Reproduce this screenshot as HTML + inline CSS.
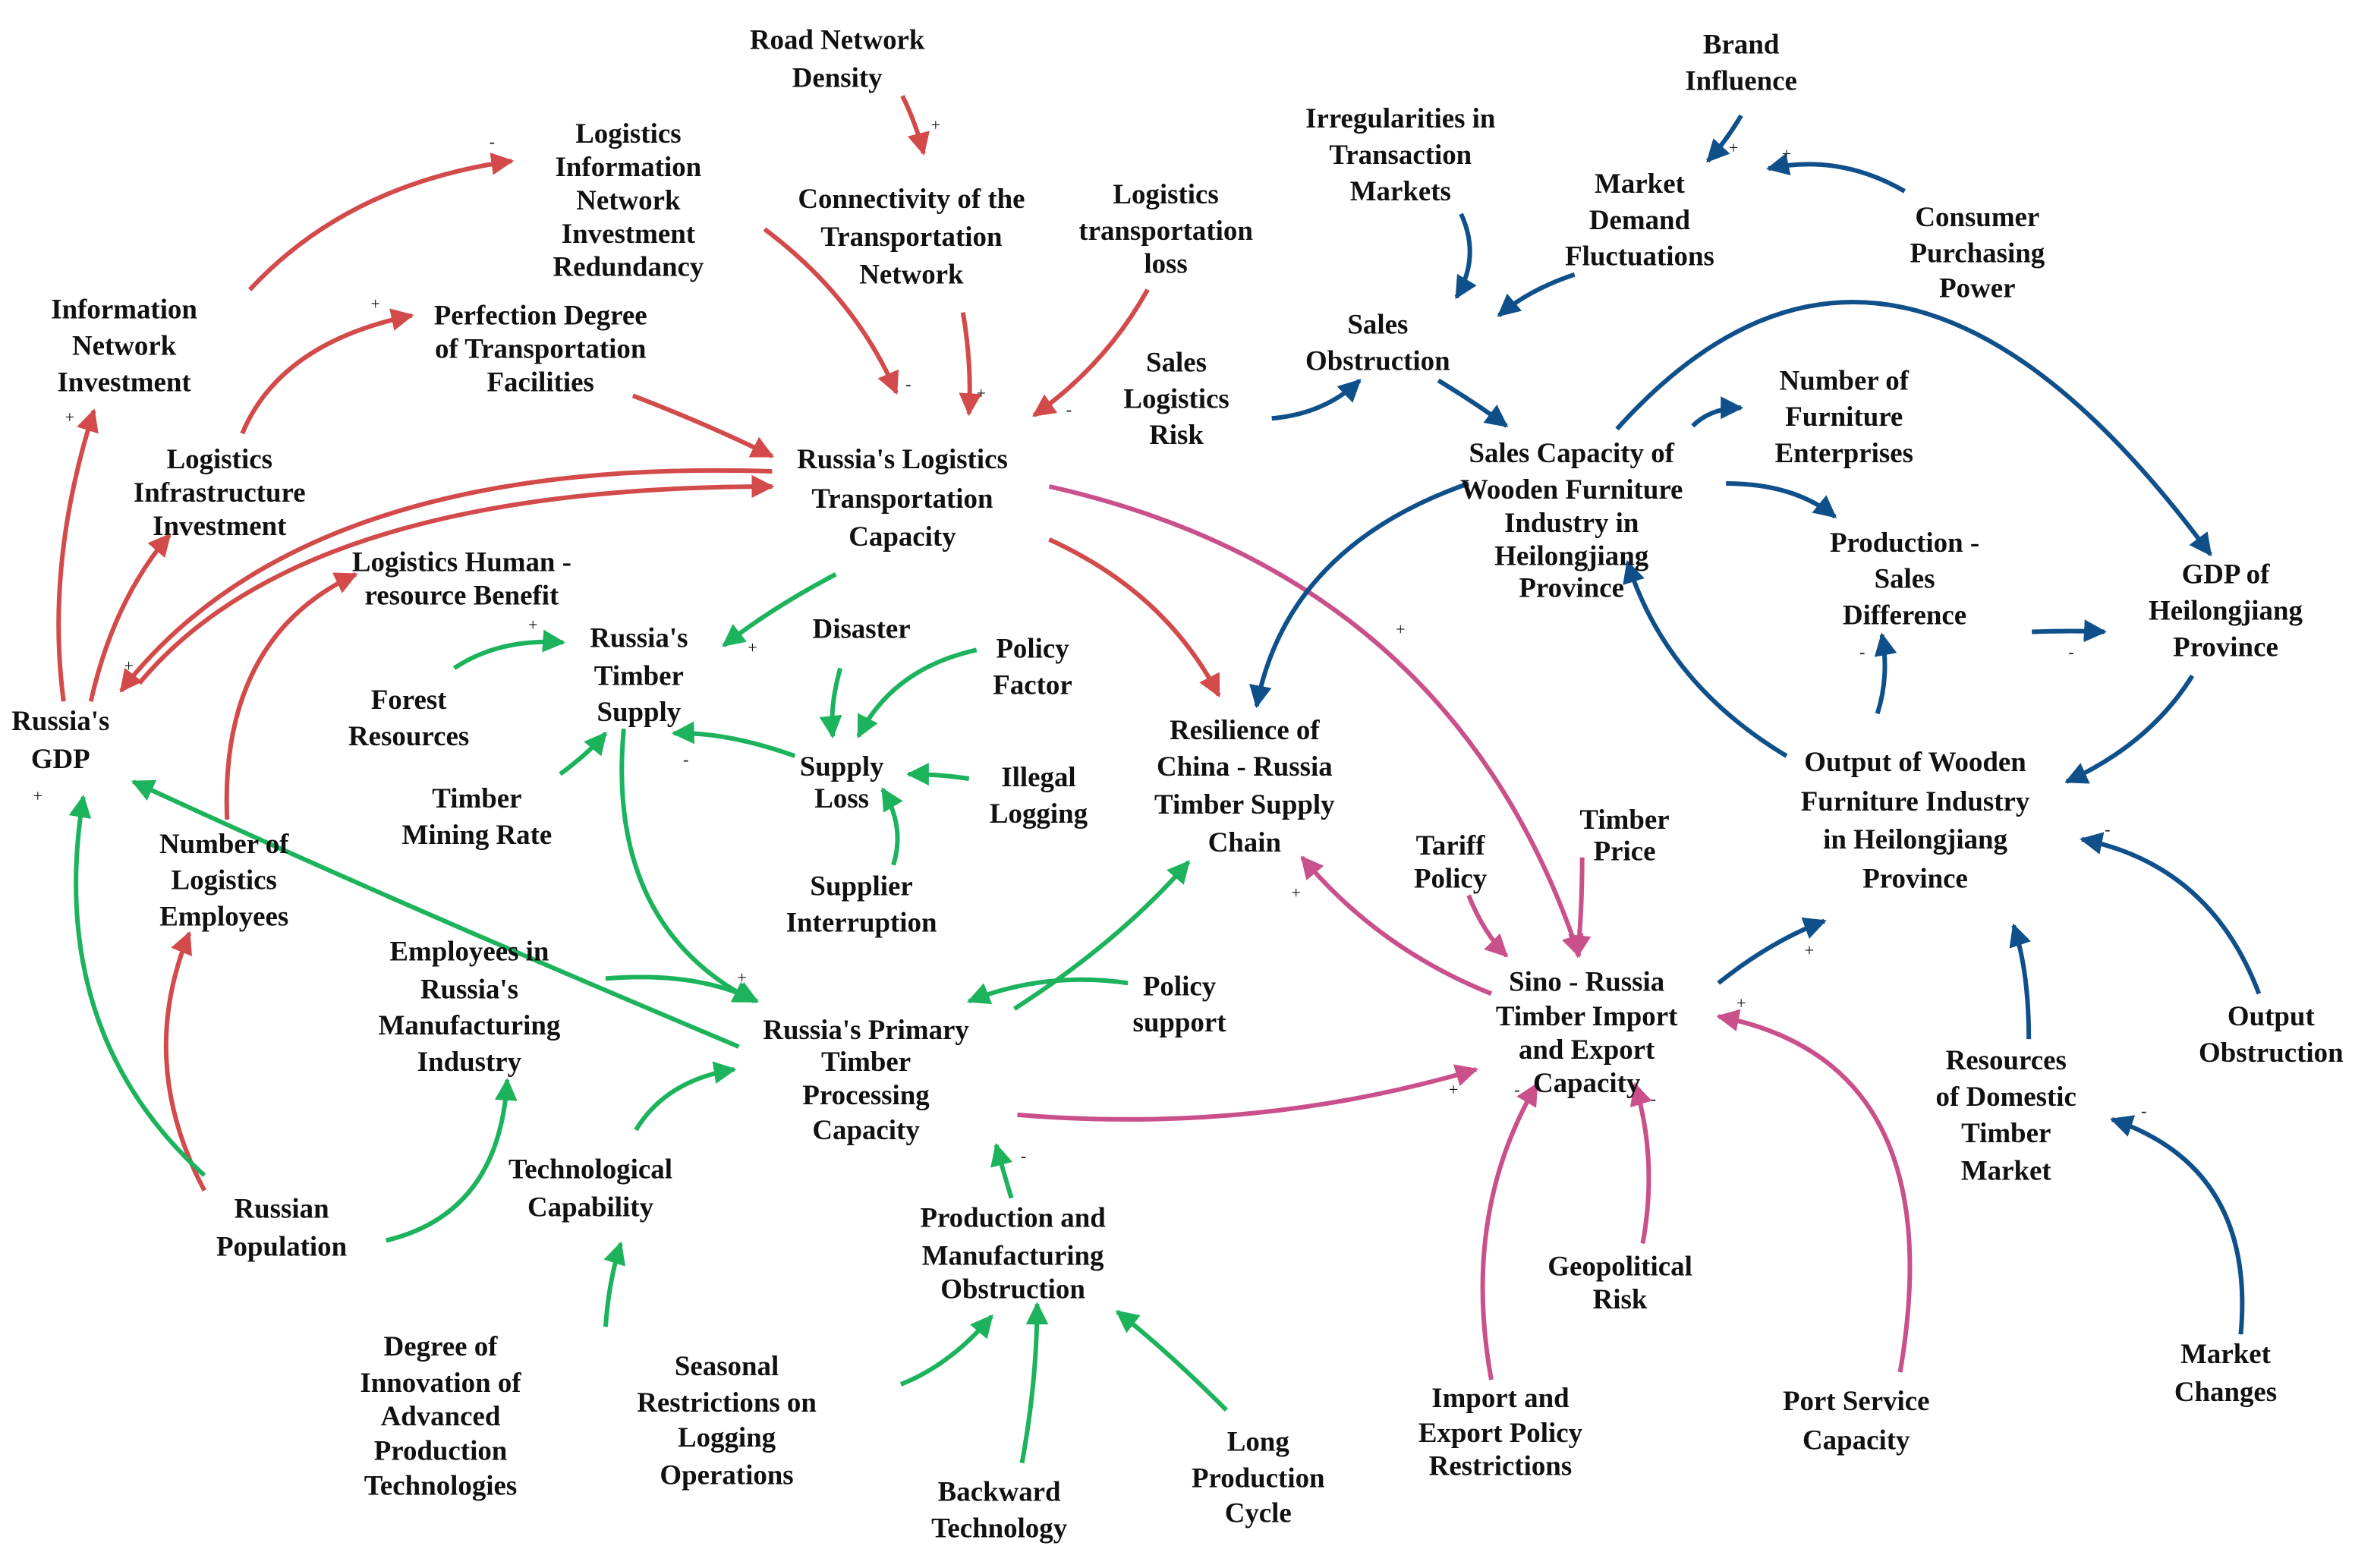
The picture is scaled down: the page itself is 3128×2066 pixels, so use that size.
<!DOCTYPE html>
<html><head><meta charset="utf-8"><style>
html,body{margin:0;padding:0;background:#fff;}
svg{display:block;}
text{font-family:"Liberation Serif",serif;font-weight:bold;font-size:18.5px;fill:#111;text-anchor:middle;}
.s{font-size:11px;font-weight:normal;}
</style></head><body>
<svg width="3128" height="2066" viewBox="0 0 1568 1033" xmlns="http://www.w3.org/2000/svg">
<defs>
<marker id="mr" viewBox="0 0 10 10" refX="9" refY="5" markerWidth="5" markerHeight="5" orient="auto" markerUnits="strokeWidth"><path d="M0,0L10,5L0,10z" fill="#d24a4a"/></marker>
<marker id="mg" viewBox="0 0 10 10" refX="9" refY="5" markerWidth="5" markerHeight="5" orient="auto" markerUnits="strokeWidth"><path d="M0,0L10,5L0,10z" fill="#1cb35c"/></marker>
<marker id="mb" viewBox="0 0 10 10" refX="9" refY="5" markerWidth="5" markerHeight="5" orient="auto" markerUnits="strokeWidth"><path d="M0,0L10,5L0,10z" fill="#0f4f8a"/></marker>
<marker id="mp" viewBox="0 0 10 10" refX="9" refY="5" markerWidth="5" markerHeight="5" orient="auto" markerUnits="strokeWidth"><path d="M0,0L10,5L0,10z" fill="#c9508a"/></marker>
</defs>
<g fill="none" stroke-width="3">
<g stroke="#d24a4a" marker-end="url(#mr)">
<path d="M596,62Q605,80 610,100"/>
<path d="M165,190Q230,120 338,105"/>
<path d="M42,462Q30,370 62,270"/>
<path d="M60,462Q75,395 112,352"/>
<path d="M160,285Q185,225 272,207"/>
<path d="M418,260Q470,280 510,300"/>
<path d="M505,150Q565,195 592,258"/>
<path d="M636,205Q642,240 640,272"/>
<path d="M758,190Q730,240 683,273"/>
<path d="M510,310Q200,300 80,455"/>
<path d="M92,450Q200,320 510,320"/>
<path d="M150,540Q145,420 235,378"/>
<path d="M135,785Q90,700 125,615"/>
<path d="M693,355Q770,390 805,458"/>
</g>
<g stroke="#c9508a" marker-end="url(#mp)">
<path d="M693,320Q960,380 1043,630"/>
<path d="M985,655Q910,625 860,565"/>
<path d="M672,735Q830,748 975,705"/>
<path d="M970,590Q980,615 995,630"/>
<path d="M1045,565Q1045,600 1042,630"/>
<path d="M985,910Q965,800 1015,715"/>
<path d="M1085,820Q1095,765 1080,715"/>
<path d="M1255,905Q1290,700 1135,670"/>
</g>
<g stroke="#1cb35c" marker-end="url(#mg)">
<path d="M552,378Q510,400 478,425"/>
<path d="M300,440Q330,420 372,423"/>
<path d="M370,510Q390,495 400,483"/>
<path d="M525,498Q480,482 445,483"/>
<path d="M555,440Q548,465 550,485"/>
<path d="M645,428Q590,440 567,485"/>
<path d="M640,513Q620,510 600,510"/>
<path d="M590,570Q598,545 583,520"/>
<path d="M412,480Q400,610 498,660"/>
<path d="M400,645Q460,640 500,660"/>
<path d="M420,745Q440,712 485,705"/>
<path d="M255,818Q330,800 335,712"/>
<path d="M400,875Q402,845 410,820"/>
<path d="M488,690Q250,590 88,515"/>
<path d="M135,775Q30,680 55,525"/>
<path d="M745,648Q690,640 640,660"/>
<path d="M670,665Q740,620 785,568"/>
<path d="M668,790Q662,770 658,755"/>
<path d="M595,913Q628,900 655,868"/>
<path d="M675,965Q685,910 685,860"/>
<path d="M810,930Q770,890 738,865"/>
</g>
<g stroke="#0f4f8a" marker-end="url(#mb)">
<path d="M1150,75Q1140,92 1128,105"/>
<path d="M1258,125Q1215,100 1168,110"/>
<path d="M965,140Q978,168 962,195"/>
<path d="M1040,180Q1010,190 990,207"/>
<path d="M840,275Q875,272 898,250"/>
<path d="M950,250Q975,265 995,280"/>
<path d="M1068,282Q1250,80 1460,365"/>
<path d="M1118,280Q1130,268 1150,268"/>
<path d="M1140,318Q1185,318 1212,340"/>
<path d="M970,318Q850,360 830,465"/>
<path d="M1180,498Q1100,450 1075,370"/>
<path d="M1240,470Q1248,445 1243,418"/>
<path d="M1342,416Q1370,415 1390,416"/>
<path d="M1448,445Q1420,490 1365,515"/>
<path d="M1135,648Q1170,620 1205,607"/>
<path d="M1492,655Q1460,570 1375,553"/>
<path d="M1340,685Q1340,640 1330,610"/>
<path d="M1480,880Q1490,770 1395,738"/>
</g>
</g>
<g>
<text x="553" y="31">Road Network</text><text x="553" y="56">Density</text>
<text x="415" y="93">Logistics</text><text x="415" y="115">Information</text><text x="415" y="137">Network</text><text x="415" y="159">Investment</text><text x="415" y="181">Redundancy</text>
<text x="602" y="136">Connectivity of the</text><text x="602" y="161">Transportation</text><text x="602" y="186">Network</text>
<text x="770" y="133">Logistics</text><text x="770" y="157">transportation</text><text x="770" y="179">loss</text>
<text x="925" y="83">Irregularities in</text><text x="925" y="107">Transaction</text><text x="925" y="131">Markets</text>
<text x="1150" y="34">Brand</text><text x="1150" y="58">Influence</text>
<text x="1083" y="126">Market</text><text x="1083" y="150">Demand</text><text x="1083" y="174">Fluctuations</text>
<text x="1306" y="148">Consumer</text><text x="1306" y="172">Purchasing</text><text x="1306" y="195">Power</text>
<text x="82" y="209">Information</text><text x="82" y="233">Network</text><text x="82" y="257">Investment</text>
<text x="357" y="213">Perfection Degree</text><text x="357" y="235">of Transportation</text><text x="357" y="257">Facilities</text>
<text x="910" y="219">Sales</text><text x="910" y="243">Obstruction</text>
<text x="777" y="244">Sales</text><text x="777" y="268">Logistics</text><text x="777" y="292">Risk</text>
<text x="1218" y="256">Number of</text><text x="1218" y="280">Furniture</text><text x="1218" y="304">Enterprises</text>
<text x="145" y="308">Logistics</text><text x="145" y="330">Infrastructure</text><text x="145" y="352">Investment</text>
<text x="596" y="308">Russia's Logistics</text><text x="596" y="334">Transportation</text><text x="596" y="359">Capacity</text>
<text x="1038" y="304">Sales Capacity of</text><text x="1038" y="328">Wooden Furniture</text><text x="1038" y="350">Industry in</text><text x="1038" y="372">Heilongjiang</text><text x="1038" y="393">Province</text>
<text x="305" y="376">Logistics Human -</text><text x="305" y="398">resource Benefit</text>
<text x="1258" y="363">Production -</text><text x="1258" y="387">Sales</text><text x="1258" y="411">Difference</text>
<text x="1470" y="384">GDP of</text><text x="1470" y="408">Heilongjiang</text><text x="1470" y="432">Province</text>
<text x="422" y="426">Russia's</text><text x="422" y="451">Timber</text><text x="422" y="475">Supply</text>
<text x="569" y="420">Disaster</text>
<text x="682" y="433">Policy</text><text x="682" y="457">Factor</text>
<text x="270" y="467">Forest</text><text x="270" y="491">Resources</text>
<text x="40" y="481">Russia's</text><text x="40" y="506">GDP</text>
<text x="822" y="487">Resilience of</text><text x="822" y="511">China - Russia</text><text x="822" y="536">Timber Supply</text><text x="822" y="561">Chain</text>
<text x="556" y="511">Supply</text><text x="556" y="532">Loss</text>
<text x="686" y="518">Illegal</text><text x="686" y="542">Logging</text>
<text x="1265" y="508">Output of Wooden</text><text x="1265" y="534">Furniture Industry</text><text x="1265" y="559">in Heilongjiang</text><text x="1265" y="585">Province</text>
<text x="315" y="532">Timber</text><text x="315" y="556">Mining Rate</text>
<text x="148" y="562">Number of</text><text x="148" y="586">Logistics</text><text x="148" y="610">Employees</text>
<text x="1073" y="546">Timber</text><text x="1073" y="567">Price</text>
<text x="958" y="563">Tariff</text><text x="958" y="585">Policy</text>
<text x="569" y="590">Supplier</text><text x="569" y="614">Interruption</text>
<text x="310" y="633">Employees in</text><text x="310" y="658">Russia's</text><text x="310" y="682">Manufacturing</text><text x="310" y="706">Industry</text>
<text x="779" y="656">Policy</text><text x="779" y="680">support</text>
<text x="1048" y="653">Sino - Russia</text><text x="1048" y="676">Timber Import</text><text x="1048" y="698">and Export</text><text x="1048" y="720">Capacity</text>
<text x="572" y="685">Russia's Primary</text><text x="572" y="706">Timber</text><text x="572" y="728">Processing</text><text x="572" y="751">Capacity</text>
<text x="1500" y="676">Output</text><text x="1500" y="700">Obstruction</text>
<text x="1325" y="705">Resources</text><text x="1325" y="729">of Domestic</text><text x="1325" y="753">Timber</text><text x="1325" y="778">Market</text>
<text x="390" y="777">Technological</text><text x="390" y="802">Capability</text>
<text x="186" y="803">Russian</text><text x="186" y="828">Population</text>
<text x="669" y="809">Production and</text><text x="669" y="834">Manufacturing</text><text x="669" y="856">Obstruction</text>
<text x="1070" y="841">Geopolitical</text><text x="1070" y="863">Risk</text>
<text x="291" y="894">Degree of</text><text x="291" y="918">Innovation of</text><text x="291" y="940">Advanced</text><text x="291" y="963">Production</text><text x="291" y="986">Technologies</text>
<text x="480" y="907">Seasonal</text><text x="480" y="931">Restrictions on</text><text x="480" y="954">Logging</text><text x="480" y="979">Operations</text>
<text x="1470" y="899">Market</text><text x="1470" y="924">Changes</text>
<text x="991" y="928">Import and</text><text x="991" y="951">Export Policy</text><text x="991" y="973">Restrictions</text>
<text x="1226" y="930">Port Service</text><text x="1226" y="956">Capacity</text>
<text x="831" y="957">Long</text><text x="831" y="981">Production</text><text x="831" y="1004">Cycle</text>
<text x="660" y="990">Backward</text><text x="660" y="1014">Technology</text>
</g>
<g class="s">
<text class="s" x="325" y="96" fill="#d24a4a">-</text>
<text class="s" x="618" y="85" fill="#d24a4a">+</text>
<text class="s" x="600" y="256" fill="#d24a4a">-</text>
<text class="s" x="648" y="262" fill="#d24a4a">+</text>
<text class="s" x="706" y="273" fill="#d24a4a">-</text>
<text class="s" x="248" y="203" fill="#d24a4a">+</text>
<text class="s" x="46" y="278" fill="#d24a4a">+</text>
<text class="s" x="85" y="442" fill="#d24a4a">+</text>
<text class="s" x="497" y="430" fill="#1cb35c">+</text>
<text class="s" x="352" y="415" fill="#1cb35c">+</text>
<text class="s" x="453" y="504" fill="#1cb35c">-</text>
<text class="s" x="25" y="528" fill="#1cb35c">+</text>
<text class="s" x="490" y="648" fill="#1cb35c">+</text>
<text class="s" x="676" y="766" fill="#1cb35c">-</text>
<text class="s" x="1145" y="100" fill="#0f4f8a">+</text>
<text class="s" x="1180" y="104" fill="#0f4f8a">+</text>
<text class="s" x="1368" y="433" fill="#0f4f8a">-</text>
<text class="s" x="1230" y="433" fill="#0f4f8a">-</text>
<text class="s" x="1392" y="550" fill="#0f4f8a">-</text>
<text class="s" x="1416" y="736" fill="#0f4f8a">-</text>
<text class="s" x="1195" y="630" fill="#0f4f8a">+</text>
<text class="s" x="856" y="592" fill="#c9508a">+</text>
<text class="s" x="960" y="722" fill="#c9508a">+</text>
<text class="s" x="1002" y="722" fill="#c9508a">-</text>
<text class="s" x="1092" y="728" fill="#c9508a">-</text>
<text class="s" x="1150" y="665" fill="#c9508a">+</text>
<text class="s" x="925" y="418" fill="#c9508a">+</text>
</g>
</svg>
</body></html>
